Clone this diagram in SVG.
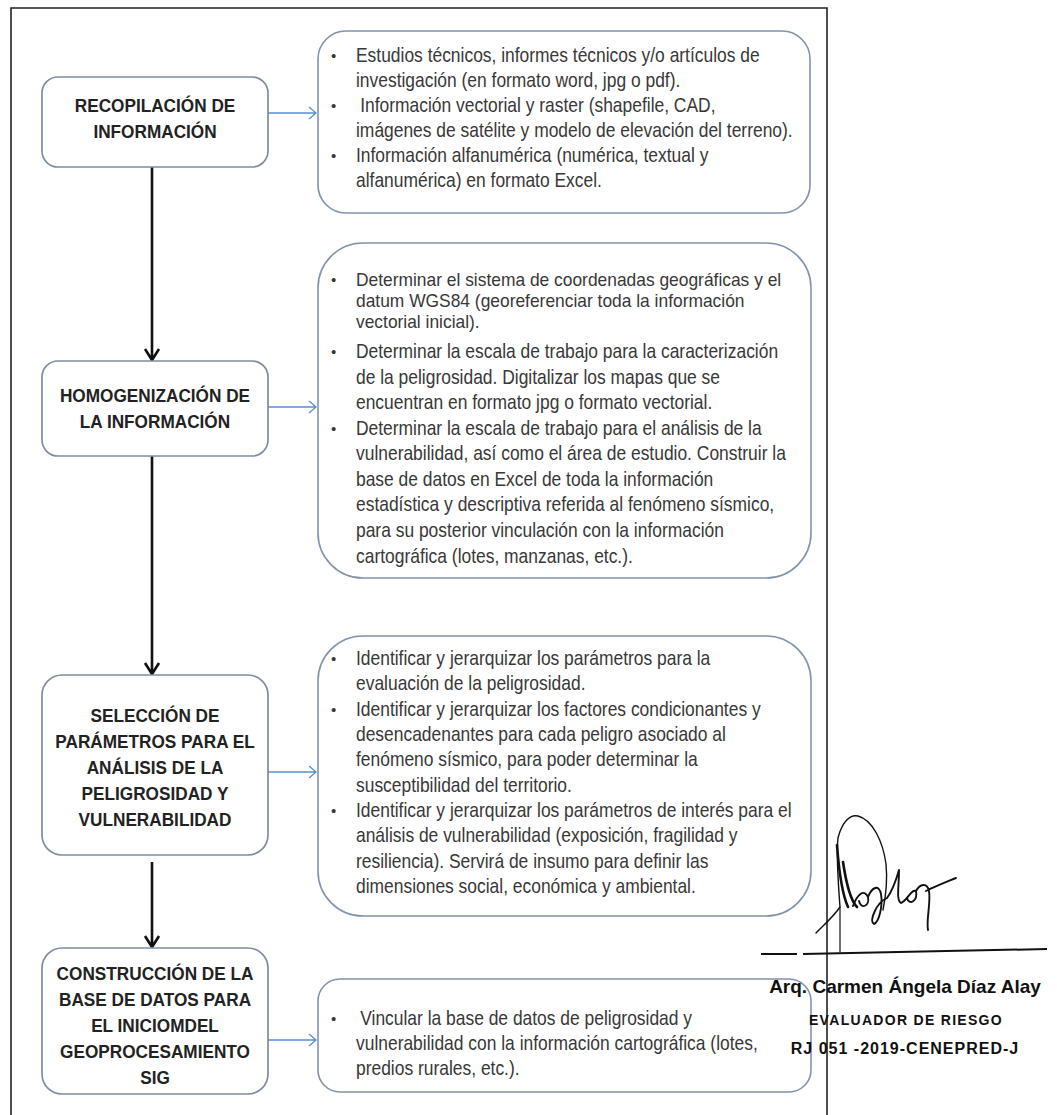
<svg xmlns="http://www.w3.org/2000/svg" width="1057" height="1115" viewBox="0 0 1057 1115">
<defs>
<style>
.frame{stroke:#222;stroke-width:1.6;fill:none}
.lbox{fill:#fff;stroke:#7d8da3;stroke-width:1.7}
.rbox{fill:#fff;stroke:#8293ab;stroke-width:1.6}
.lt{font-family:"Liberation Sans",Arial,sans-serif;font-weight:bold;font-size:18.5px;fill:#222;text-anchor:middle}
.rt{font-family:"Liberation Sans",Arial,sans-serif;font-size:20.5px;fill:#383838}
.rs{font-family:"Liberation Sans",Arial,sans-serif;font-size:18.6px;fill:#383838}
.bul{font-family:"Liberation Sans",Arial,sans-serif;font-size:15px;fill:#383838}
.blue{stroke:#5b8fd6;stroke-width:1.3;fill:none}
.black{stroke:#111;stroke-width:2.6;fill:none}
.sig{font-family:"Liberation Sans",Arial,sans-serif;font-weight:bold;fill:#111;text-anchor:middle}
.ink{stroke:#111;fill:none;stroke-linecap:round;stroke-linejoin:round}
</style>
</defs>
<rect width="1057" height="1115" fill="#fff"/>
<path class="frame" d="M11,1115 V8 H827 V1115"/>

<g id="connectors">
<path class="black" d="M152,167 V360 M145,349 L152,360 L159,349"/>
<path class="black" d="M152,456 V674 M145,663 L152,674 L159,663"/>
<path class="black" d="M152,862 V947 M145,936 L152,947 L159,936"/>
<path class="blue" d="M268,113 H316 M309,107 L316,113 L309,119"/>
<path class="blue" d="M268,407 H316 M309,401 L316,407 L309,413"/>
<path class="blue" d="M268,772 H316 M309,766 L316,772 L309,778"/>
<path class="blue" d="M268,1040 H316 M309,1034 L316,1040 L309,1046"/>
</g>

<g id="n1">
<rect class="lbox" x="42" y="77" width="226" height="90" rx="16"/>
<g transform="translate(155,0) scale(0.93,1)">
<text class="lt" x="0" y="112">RECOPILACIÓN DE</text>
<text class="lt" x="0" y="138">INFORMACIÓN</text>
</g>
</g>

<g id="n1d">
<rect class="rbox" x="318" y="31" width="492" height="182" rx="28"/>
<text class="bul" x="331" y="61">•</text>
<text class="bul" x="331" y="111">•</text>
<text class="bul" x="331" y="161">•</text>
<g transform="translate(356,0) scale(0.85,1)">
<text class="rt" x="0" y="62">Estudios técnicos, informes técnicos y/o artículos de</text>
<text class="rt" x="0" y="87">investigación (en formato word, jpg o pdf).</text>
<text class="rt" x="5" y="112">Información vectorial y raster (shapefile, CAD,</text>
<text class="rt" x="0" y="137">imágenes de satélite y modelo de elevación del terreno).</text>
<text class="rt" x="0" y="162">Información alfanumérica (numérica, textual y</text>
<text class="rt" x="0" y="187">alfanumérica) en formato Excel.</text>
</g>
</g>

<g id="n2">
<rect class="lbox" x="42" y="361" width="226" height="95" rx="16"/>
<g transform="translate(155,0) scale(0.93,1)">
<text class="lt" x="0" y="402">HOMOGENIZACIÓN DE</text>
<text class="lt" x="0" y="428">LA INFORMACIÓN</text>
</g>
</g>

<g id="n2d">
<rect class="rbox" x="318" y="243" width="493" height="335" rx="45"/>
<text class="bul" x="331" y="285">•</text>
<text class="bul" x="331" y="357">•</text>
<text class="bul" x="331" y="434">•</text>
<g transform="translate(356,0) scale(0.935,1)">
<text class="rs" x="0" y="286">Determinar el sistema de coordenadas geográficas y el</text>
<text class="rs" x="0" y="307">datum WGS84 (georeferenciar toda la información</text>
<text class="rs" x="0" y="328">vectorial inicial).</text>
</g>
<g transform="translate(356,0) scale(0.85,1)">
<text class="rt" x="0" y="358">Determinar la escala de trabajo para la caracterización</text>
<text class="rt" x="0" y="384">de la peligrosidad. Digitalizar los mapas que se</text>
<text class="rt" x="0" y="409">encuentran en formato jpg o formato vectorial.</text>
<text class="rt" x="0" y="435">Determinar la escala de trabajo para el análisis de la</text>
<text class="rt" x="0" y="460">vulnerabilidad, así como el área de estudio. Construir la</text>
<text class="rt" x="0" y="486">base de datos en Excel de toda la información</text>
<text class="rt" x="0" y="511">estadística y descriptiva referida al fenómeno sísmico,</text>
<text class="rt" x="0" y="537">para su posterior vinculación con la información</text>
<text class="rt" x="0" y="563">cartográfica (lotes, manzanas, etc.).</text>
</g>
</g>

<g id="n3">
<rect class="lbox" x="42" y="675" width="226" height="180" rx="20"/>
<g transform="translate(155,0) scale(0.93,1)">
<text class="lt" x="0" y="722">SELECCIÓN DE</text>
<text class="lt" x="0" y="748">PARÁMETROS PARA EL</text>
<text class="lt" x="0" y="774">ANÁLISIS DE LA</text>
<text class="lt" x="0" y="800">PELIGROSIDAD Y</text>
<text class="lt" x="0" y="826">VULNERABILIDAD</text>
</g>
</g>

<g id="n3d">
<rect class="rbox" x="318" y="636" width="493" height="280" rx="45"/>
<text class="bul" x="331" y="664">•</text>
<text class="bul" x="331" y="715">•</text>
<text class="bul" x="331" y="816">•</text>
<g transform="translate(356,0) scale(0.85,1)">
<text class="rt" x="0" y="665">Identificar y jerarquizar los parámetros para la</text>
<text class="rt" x="0" y="690">evaluación de la peligrosidad.</text>
<text class="rt" x="0" y="716">Identificar y jerarquizar los factores condicionantes y</text>
<text class="rt" x="0" y="741">desencadenantes para cada peligro asociado al</text>
<text class="rt" x="0" y="766">fenómeno sísmico, para poder determinar la</text>
<text class="rt" x="0" y="792">susceptibilidad del territorio.</text>
<text class="rt" x="0" y="817">Identificar y jerarquizar los parámetros de interés para el</text>
<text class="rt" x="0" y="842">análisis de vulnerabilidad (exposición, fragilidad y</text>
<text class="rt" x="0" y="868">resiliencia). Servirá de insumo para definir las</text>
<text class="rt" x="0" y="893">dimensiones social, económica y ambiental.</text>
</g>
</g>

<g id="n4">
<rect class="lbox" x="42" y="948" width="226" height="146" rx="20"/>
<g transform="translate(155,0) scale(0.93,1)">
<text class="lt" x="0" y="980">CONSTRUCCIÓN DE LA</text>
<text class="lt" x="0" y="1006">BASE DE DATOS PARA</text>
<text class="lt" x="0" y="1032">EL INICIOMDEL</text>
<text class="lt" x="0" y="1058">GEOPROCESAMIENTO</text>
<text class="lt" x="0" y="1084">SIG</text>
</g>
</g>

<g id="n4d">
<rect class="rbox" x="318" y="979" width="493" height="113" rx="22"/>
<text class="bul" x="331" y="1024">•</text>
<g transform="translate(356,0) scale(0.85,1)">
<text class="rt" x="5" y="1025">Vincular la base de datos de peligrosidad y</text>
<text class="rt" x="0" y="1050">vulnerabilidad con la información cartográfica (lotes,</text>
<text class="rt" x="0" y="1075">predios rurales, etc.).</text>
</g>
</g>

<g id="signature">
<path class="ink" stroke-width="1.4" d="M816,933 C826,923 834,916 840,907 M840,907 C838,880 836,855 838,838 C842,822 850,814 858,816 C873,820 883,842 886,864 C888,884 885,900 883,910"/>
<path class="ink" stroke-width="2.6" d="M837,845 C839,872 843,896 848,907 M843,862 C846,882 850,900 857,907"/>
<path class="ink" stroke-width="1.2" d="M840,907 V952"/>
<path class="ink" stroke-width="1.9" d="M853,906 C857,895 864,888 868,897 C870,906 861,910 859,901 M868,897 C872,887 879,884 881,894 C883,906 879,922 874,924 C869,921 876,903 887,898 C893,890 897,877 899,870 C899,888 896,900 901,903 C907,901 911,889 916,891 C918,901 909,906 907,898 M916,891 C920,884 927,882 929,891 C931,903 926,920 928,930 M926,891 C934,887 944,883 956,878"/>
<path stroke="#111" stroke-width="2" fill="none" d="M761,954 H797 M803,954 L1047,949"/>
<text class="sig" x="905" y="993" font-size="19">Arq. Carmen Ángela Díaz Alay</text>
<text class="sig" x="906" y="1025" font-size="14" letter-spacing="1.3">EVALUADOR DE RIESGO</text>
<text class="sig" x="905" y="1054" font-size="16" letter-spacing="1">RJ 051 -2019-CENEPRED-J</text>
</g>
</svg>
